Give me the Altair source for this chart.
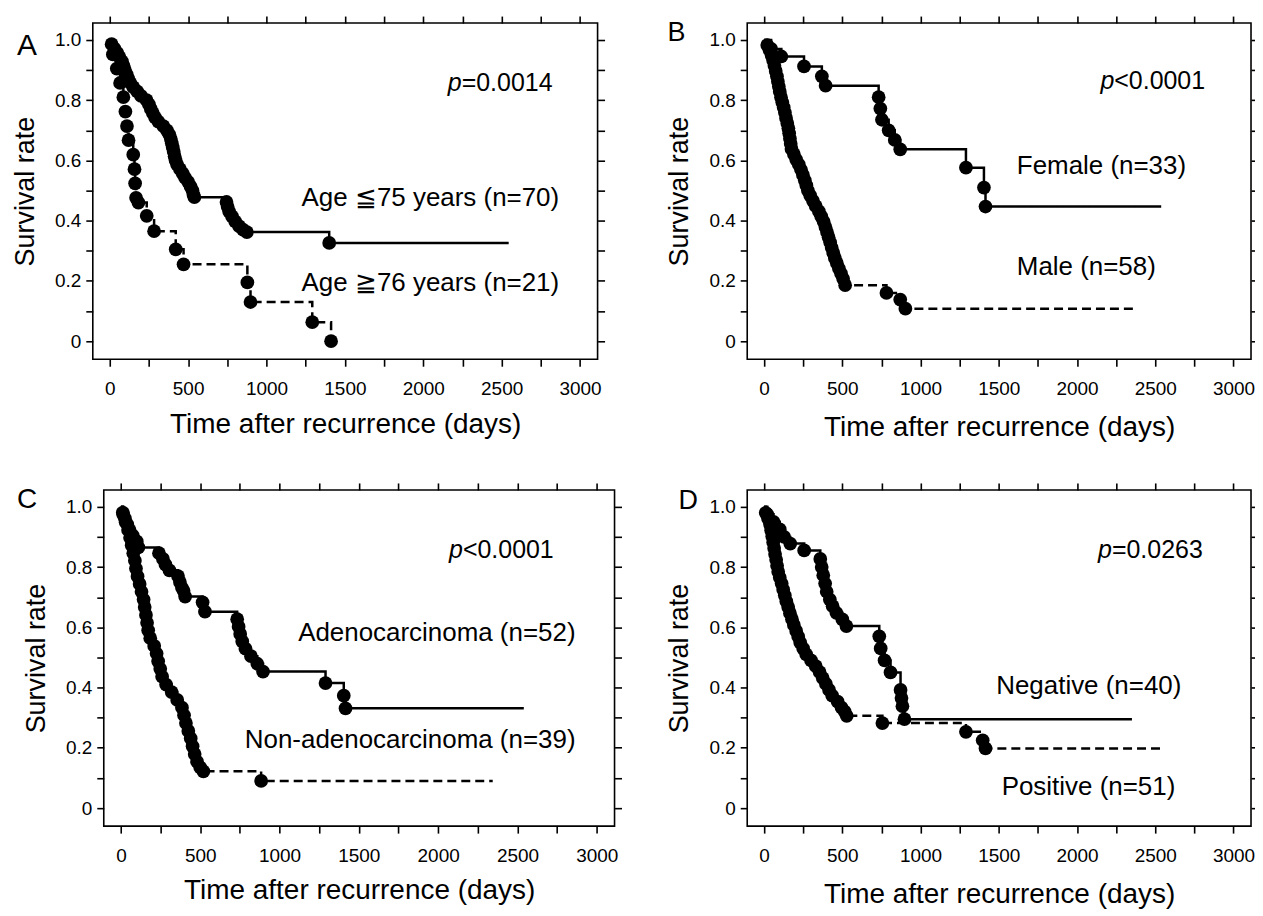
import altair as alt
import pandas as pd

# ---------------- axes (shared by all four panels) ----------------
X_DOMAIN = [-108, 3112]
Y_DOMAIN = [-0.06, 1.056]
X_TICKS = [0, 250, 500, 750, 1000, 1250, 1500, 1750, 2000, 2250, 2500, 2750, 3000]
Y_TICKS = [0, 0.1, 0.2, 0.3, 0.4, 0.5, 0.6, 0.7, 0.8, 0.9, 1.0]
X_TITLE = "Time after recurrence (days)"
Y_TITLE = "Survival rate"

# ---------------- Panel A : age ----------------
a1_label = "Age ≦75 years (n=70)"
a1_t = [12, 30, 48, 62, 78, 88, 97, 108, 119, 132, 150, 175, 200, 235, 250, 262, 275, 289,
        310, 342, 365, 380, 390, 396, 402, 408, 414, 420, 430, 448, 465, 480, 500, 515,
        528, 534, 540, 745, 752, 762, 780, 800, 825, 850, 875, 1400]
a1_s = [0.986, 0.971, 0.957, 0.943, 0.929, 0.914, 0.900, 0.886, 0.871, 0.857, 0.843, 0.829,
        0.814, 0.800, 0.786, 0.771, 0.757, 0.743, 0.729, 0.714, 0.700, 0.686, 0.671, 0.657,
        0.643, 0.629, 0.614, 0.600, 0.586, 0.571, 0.557, 0.543, 0.529, 0.514, 0.500, 0.486,
        0.478, 0.462, 0.446, 0.430, 0.414, 0.398, 0.382, 0.370, 0.362, 0.326]
a1_end = 2545
a2_label = "Age ≧76 years (n=21)"
a2_t = [20, 45, 66, 87, 100, 110, 120, 150, 158, 162, 168, 183, 236, 283, 421, 471, 878,
        898, 1292, 1412]
a2_s = [0.952, 0.905, 0.857, 0.810, 0.762, 0.714, 0.667, 0.619, 0.571, 0.524, 0.476, 0.460,
        0.416, 0.365, 0.305, 0.255, 0.195, 0.130, 0.063, 0.0]
a2_end = 1412
a_p = "=0.0014"

# ---------------- Panel B : sex ----------------
b1_label = "Female (n=33)"
b1_t = [45, 110, 255, 369, 393, 732, 743, 753, 796, 835, 870, 1290, 1405, 1415]
b1_s = [0.970, 0.945, 0.912, 0.879, 0.848, 0.810, 0.772, 0.735, 0.700, 0.668, 0.637, 0.576,
        0.510, 0.447]
b1_end = 2538
b2_label = "Male (n=58)"
b2_t = [20, 35, 48, 58, 66, 74, 82, 88, 94, 100, 108, 116, 125, 133, 140, 148, 155, 160,
        165, 170, 175, 190, 205, 222, 236, 248, 260, 270, 280, 295, 312, 330, 350, 365, 380,
        392, 402, 412, 422, 432, 442, 452, 465, 478, 492, 505, 518, 782, 870, 903]
b2_s = [0.983, 0.966, 0.948, 0.931, 0.914, 0.897, 0.879, 0.862, 0.845, 0.828, 0.810, 0.793,
        0.776, 0.759, 0.741, 0.724, 0.707, 0.690, 0.672, 0.655, 0.638, 0.621, 0.603, 0.586,
        0.569, 0.552, 0.534, 0.517, 0.500, 0.483, 0.466, 0.448, 0.431, 0.414, 0.397, 0.379,
        0.362, 0.345, 0.328, 0.310, 0.293, 0.276, 0.259, 0.241, 0.224, 0.207, 0.186, 0.160,
        0.138, 0.108]
b2_end = 2359
b_p = "<0.0001"

# ---------------- Panel C : histology ----------------
c1_label = "Adenocarcinoma (n=52)"
c1_t = [12, 25, 40, 55, 75, 100, 110, 240, 265, 281, 306, 360, 372, 385, 395, 405, 515,
        530, 733, 742, 752, 765, 785, 820, 860, 896, 1290, 1405, 1416]
c1_s = [0.981, 0.962, 0.942, 0.923, 0.904, 0.885, 0.865, 0.846, 0.827, 0.808, 0.789, 0.770,
        0.750, 0.731, 0.721, 0.702, 0.683, 0.652, 0.627, 0.602, 0.578, 0.553, 0.529, 0.504,
        0.479, 0.453, 0.415, 0.373, 0.331]
c1_end = 2540
c2_label = "Non-adenocarcinoma (n=39)"
c2_t = [15, 30, 45, 58, 68, 78, 88, 95, 105, 118, 130, 143, 150, 158, 165, 172, 185, 210,
        225, 235, 248, 260, 285, 320, 355, 385, 398, 410, 425, 440, 452, 465, 480, 500, 520,
        884]
c2_s = [0.974, 0.949, 0.923, 0.897, 0.872, 0.846, 0.821, 0.795, 0.769, 0.744, 0.718, 0.692,
        0.667, 0.641, 0.615, 0.590, 0.564, 0.538, 0.513, 0.487, 0.462, 0.436, 0.410, 0.385,
        0.359, 0.333, 0.308, 0.282, 0.256, 0.231, 0.205, 0.179, 0.154, 0.135, 0.122, 0.090]
c2_end = 2344
c_p = "<0.0001"

# ---------------- Panel D : marker status ----------------
d1_label = "Negative (n=40)"
d1_t = [20, 60, 100, 128, 167, 256, 359, 368, 378, 390, 400, 420, 438, 462, 500, 526, 736,
        745, 770, 808, 872, 878, 884, 897]
d1_s = [0.975, 0.950, 0.925, 0.900, 0.878, 0.855, 0.827, 0.800, 0.773, 0.745, 0.718, 0.692,
        0.670, 0.648, 0.626, 0.604, 0.570, 0.530, 0.490, 0.450, 0.392, 0.365, 0.338, 0.295]
d1_end = 2351
d2_label = "Positive (n=51)"
d2_t = [10, 25, 38, 45, 52, 58, 64, 70, 77, 83, 90, 100, 112, 122, 132, 142, 154, 165, 178,
        190, 205, 218, 231, 250, 269, 300, 330, 355, 375, 395, 415, 435, 470, 495, 515, 528,
        756, 1290, 1397, 1415]
d2_s = [0.980, 0.961, 0.941, 0.922, 0.902, 0.882, 0.863, 0.843, 0.824, 0.804, 0.784, 0.765,
        0.745, 0.725, 0.706, 0.686, 0.667, 0.647, 0.627, 0.608, 0.588, 0.569, 0.549, 0.529,
        0.510, 0.490, 0.471, 0.451, 0.431, 0.412, 0.392, 0.373, 0.353, 0.333, 0.320, 0.306,
        0.282, 0.253, 0.225, 0.198]
d2_end = 2546
d_p = "=0.0263"

LABEL_FONT = "Liberation Sans Narrow, Liberation Sans"
TEXT_FONT = "Liberation Sans"
NOTE_SIZE = 26
TICK_LABEL_SIZE = 19


def xscale():
    return alt.Scale(domain=X_DOMAIN, nice=False, zero=False)


def yscale():
    return alt.Scale(domain=Y_DOMAIN, nice=False, zero=False)


def text_layer(t, s, txt, align, size, style="normal", baseline="middle"):
    df = pd.DataFrame([{"t": t, "s": s, "label": txt}])
    return alt.Chart(df).mark_text(align=align, baseline=baseline, font=TEXT_FONT,
                                   fontSize=size, fontStyle=style, color="black").encode(
        x=alt.X("t:Q", scale=xscale(), axis=None),
        y=alt.Y("s:Q", scale=yscale(), axis=None),
        text="label:N")


def panel(series, pval, p_pos, notes, letter, letter_pos, letter_size, width, xtitle_pad):
    rows_line, rows_pt = [], []
    for name, dashed, ts, ss, end in series:
        pts = [(0, 1.0)] + list(zip(ts, ss))
        if end is not None and end > ts[-1]:
            pts.append((end, ss[-1]))
        for i, (t, s) in enumerate(pts):
            rows_line.append({"t": t, "s": s, "grp": name, "dash": dashed, "i": i})
        for t, s in zip(ts, ss):
            rows_pt.append({"t": t, "s": s, "grp": name})
    dl = pd.DataFrame(rows_line)
    dp = pd.DataFrame(rows_pt)

    bottom_axis = alt.Axis(
        orient="bottom", values=X_TICKS,
        labelExpr="datum.value % 500 == 0 ? format(datum.value, 'd') : ''",
        tickSize=7, tickWidth=1.6, tickColor="black", domain=False, grid=False,
        labelFont=LABEL_FONT, labelFontSize=TICK_LABEL_SIZE, labelColor="black",
        labelPadding=13, labelFlush=False, labelOverlap=False,
        title=X_TITLE, titleFont=TEXT_FONT, titleFontSize=28, titleFontWeight="normal",
        titleColor="black", titlePadding=xtitle_pad)
    left_axis = alt.Axis(
        orient="left", values=Y_TICKS,
        labelExpr="round(datum.value*10) % 2 == 0 ? (datum.value == 0 ? '0' : format(datum.value, '.1f')) : ''",
        tickSize=7, tickWidth=1.6, tickColor="black", domain=False, grid=False,
        labelFont=LABEL_FONT, labelFontSize=TICK_LABEL_SIZE, labelColor="black",
        labelPadding=5, labelFlush=False, labelOverlap=False,
        title=Y_TITLE, titleFont=TEXT_FONT, titleFontSize=27, titleFontWeight="normal",
        titleColor="black", titlePadding=15)
    top_axis = alt.Axis(orient="top", values=X_TICKS, labels=False, tickSize=7,
                        tickWidth=1.6, tickColor="black", domain=False, grid=False,
                        title=None)
    right_axis = alt.Axis(orient="right", values=Y_TICKS, labels=False, tickSize=7,
                          tickWidth=1.6, tickColor="black", domain=False, grid=False,
                          title=None)

    lines = alt.Chart(dl).mark_line(interpolate="step-after", color="black",
                                    strokeWidth=2.5).encode(
        x=alt.X("t:Q", scale=xscale(), axis=bottom_axis),
        y=alt.Y("s:Q", scale=yscale(), axis=left_axis),
        detail="grp:N",
        order="i:Q",
        strokeDash=alt.StrokeDash("dash:N", scale=alt.Scale(domain=["solid", "dashed"],
                                                            range=[[1, 0], [9, 5]]),
                                  legend=None),
    )
    dots = alt.Chart(dp).mark_circle(size=190, color="black", opacity=1).encode(
        x=alt.X("t:Q", scale=xscale(), axis=top_axis),
        y=alt.Y("s:Q", scale=yscale(), axis=right_axis),
    )

    layers = [lines, dots,
              text_layer(p_pos[0], p_pos[1], "p", "right", 25, style="italic"),
              text_layer(p_pos[0], p_pos[1], pval, "left", 25),
              text_layer(letter_pos[0], letter_pos[1], letter, "left", letter_size,
                         baseline="alphabetic")]
    for txt, tx, ty, al in notes:
        layers.append(text_layer(tx, ty, txt, al, NOTE_SIZE))

    return alt.layer(*layers).resolve_axis(x="independent", y="independent").properties(
        width=width, height=337)


pA = panel([(a1_label, "solid", a1_t, a1_s, a1_end), (a2_label, "dashed", a2_t, a2_s, a2_end)],
           a_p, (2245, 0.858),
           [(a1_label, 2867, 0.474, "right"), (a2_label, 2867, 0.193, "right")],
           "A", (-592, 0.950), 30, 506, 12)
pB = panel([(b1_label, "solid", b1_t, b1_s, b1_end), (b2_label, "dashed", b2_t, b2_s, b2_end)],
           b_p, (2238, 0.862),
           [(b1_label, 1615, 0.581, "left"), (b2_label, 1615, 0.246, "left")],
           "B", (-618, 0.996), 27, 505, 15)
pC = panel([(c1_label, "solid", c1_t, c1_s, c1_end), (c2_label, "dashed", c2_t, c2_s, c2_end)],
           c_p, (2156, 0.856),
           [(c1_label, 2866, 0.58, "right"), (c2_label, 2866, 0.227, "right")],
           "C", (-655, 0.996), 28, 512, 12)
pD = panel([(d1_label, "solid", d1_t, d1_s, d1_end), (d2_label, "dashed", d2_t, d2_s, d2_end)],
           d_p, (2223, 0.857),
           [(d1_label, 2667, 0.405, "right"), (d2_label, 2628, 0.07, "right")],
           "D", (-548, 0.993), 27, 505, 16)

spacer = alt.Chart(pd.DataFrame({"v": [0]})).mark_point(opacity=0).encode(
    x=alt.X("v:Q", axis=None), y=alt.Y("v:Q", axis=None)
).properties(width=1, height=337, view=alt.ViewBackground(strokeOpacity=0))

row1 = alt.hconcat(pA, pB, spacing=150, bounds="flush")
row2 = alt.hconcat(spacer, alt.hconcat(pC, pD, spacing=133, bounds="flush"),
                   spacing=10, bounds="flush")

chart = alt.vconcat(row1, row2, spacing=39).properties(
    padding={"left": 2, "top": 5, "right": -5, "bottom": 0}, background="white"
).configure_view(stroke="black", strokeWidth=1.6)

chart.save("out.html", embed_options={"renderer": "svg", "actions": False})
